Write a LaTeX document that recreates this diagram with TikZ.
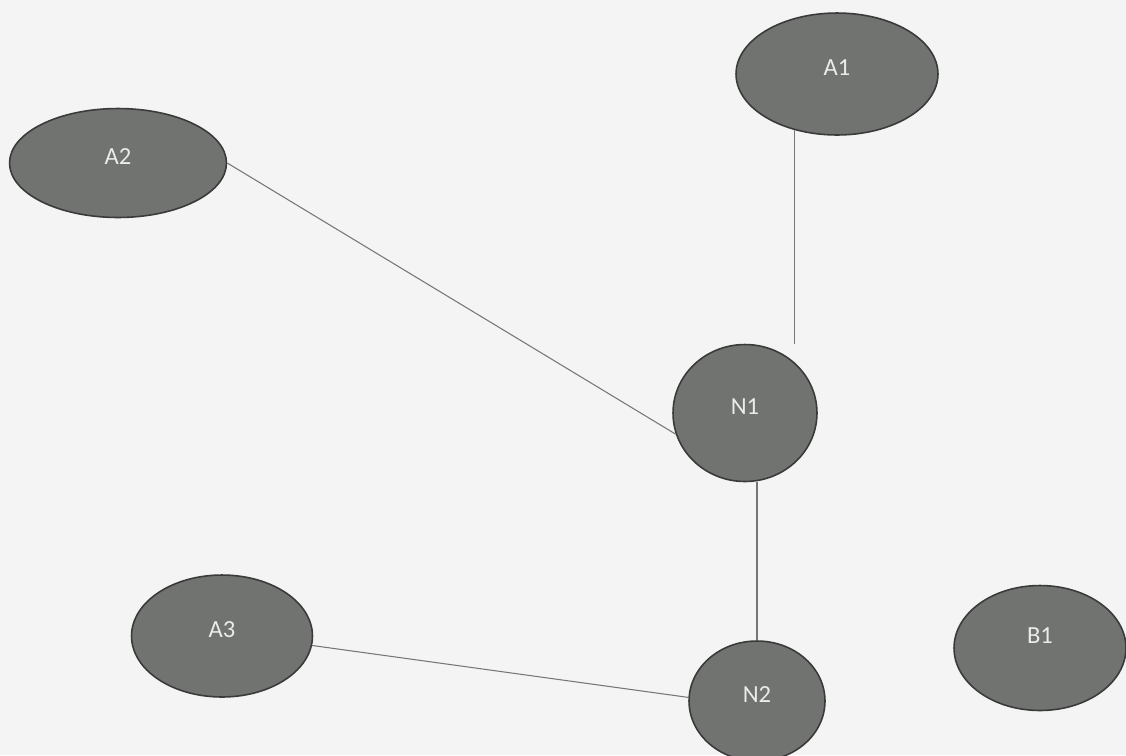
\documentclass[tikz,border=0pt]{standalone}
\usepackage{fontspec}
\setmainfont{Carlito}
\usetikzlibrary{shapes.geometric}
\definecolor{paper}{RGB}{243,244,243}
\definecolor{blobfill}{RGB}{112,115,111}
\definecolor{blobline}{RGB}{58,58,58}
\definecolor{linkgray}{RGB}{118,118,118}
\begin{document}
\begin{tikzpicture}[x=0.02cm,y=-0.02cm,
    blob/.style={ellipse,draw=blobline,line width=0.9pt,fill=blobfill,inner sep=0pt,
        text=white!92!black,font=\fontsize{14}{16}\selectfont,text depth=0.24cm},
    link/.style={draw=linkgray,line width=0.6pt}]
            \fill[paper] (0,0) rectangle (1126,755);
            \useasboundingbox (0,0) rectangle (1126,755);

            \node[blob,minimum width=4.04cm,minimum height=2.44cm] (A1) at (837,74) {A1};
            \node[blob,minimum width=4.34cm,minimum height=2.18cm] (A2) at (118,163) {A2};
            \node[blob,minimum width=2.88cm,minimum height=2.74cm] (N1) at (745,413) {N1};
            \node[blob,minimum width=3.62cm,minimum height=2.44cm] (A3) at (222,636) {A3};
            \node[blob,minimum width=2.72cm,minimum height=2.40cm] (N2) at (757,701) {N2};
            \node[blob,minimum width=3.44cm,minimum height=2.50cm,text depth=0.5cm] (B1) at (1040,648) {B1};

            \draw[link] (A1.233) -- (A1.233 |- N1.north);
            \draw[link] (A2.east) -- (N1.197);
            \draw[link] (N1.south -| N2.north) -- (N2.north);
            \draw[link] (A3.354) -- (N2.177);
        \end{tikzpicture}
\end{document}
